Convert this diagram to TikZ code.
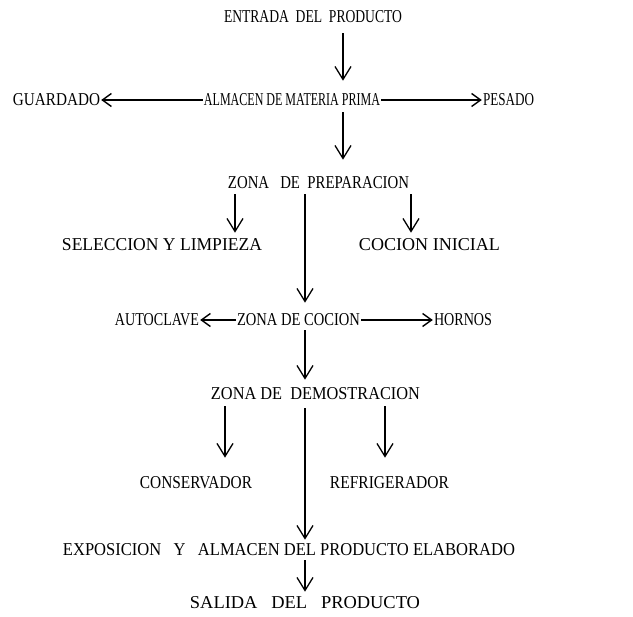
\documentclass[tikz,border=0pt]{standalone}
\usepackage{fontspec}
\setmainfont{Liberation Serif}
\usetikzlibrary{arrows.meta}
\newcommand{\fitlbl}[2]{\resizebox{#1pt}{12pt}{#2}}
\begin{document}
\begin{tikzpicture}[x=1pt,y=-1pt,
  lbl/.style={inner sep=0pt, font=\fontsize{15}{15}\selectfont},
  varr/.style={-{Straight Barb[length=13pt,width=16pt,line width=1.3pt]}, line width=1.2pt},
  harr/.style={-{Straight Barb[length=9pt,width=13pt,line width=1.4pt]}, line width=1.1pt, shorten <=1pt, shorten >=1pt}]
\useasboundingbox (0,0) rectangle (633,617);
% nodes
\node[lbl] (entrada) at (313,17) {\fitlbl{178}{ENTRADA\ \ DEL\ \ PRODUCTO}};
\node[lbl] (guardado) at (56.5,100) {\fitlbl{87}{GUARDADO}};
\node[lbl] (almacen) at (292,100) {\fitlbl{176}{ALMACEN\ DE\ MATERIA PRIMA}};
\node[lbl] (pesado) at (508.5,100) {\fitlbl{51}{PESADO}};
\node[lbl] (prep) at (318.5,183) {\fitlbl{181}{ZONA\ \ \ DE\ \ PREPARACION}};
\node[lbl] (selec) at (162,245) {\fitlbl{200}{SELECCION Y LIMPIEZA}};
\node[lbl] (cocini) at (429.5,245) {\fitlbl{141}{COCION INICIAL}};
\node[lbl] (autoclave) at (157,320) {\fitlbl{84}{AUTOCLAVE}};
\node[lbl] (coccion) at (298.5,320) {\fitlbl{123}{ZONA DE COCION}};
\node[lbl] (hornos) at (463,320) {\fitlbl{58}{HORNOS}};
\node[lbl] (demo) at (315.5,394) {\fitlbl{209}{ZONA DE\ \ DEMOSTRACION}};
\node[lbl] (conserv) at (196,483) {\fitlbl{112}{CONSERVADOR}};
\node[lbl] (refrig) at (389.5,483) {\fitlbl{119}{REFRIGERADOR}};
\node[lbl] (expo) at (289,550) {\fitlbl{452}{EXPOSICION\ \ \ Y\ \ \ ALMACEN DEL PRODUCTO ELABORADO}};
\node[lbl] (salida) at (305,603) {\fitlbl{230}{SALIDA\ \ \ DEL\ \ \ PRODUCTO}};
% columns
\coordinate (cA) at (343,0);
\coordinate (cL) at (235,0);
\coordinate (cM) at (305,0);
\coordinate (cR) at (411,0);
\coordinate (dL) at (225,0);
\coordinate (dR) at (385,0);
% connectors
\draw[varr, shorten <=10pt, shorten >=13pt] (entrada.south -| cA) -- (almacen.north -| cA);
\draw[harr] (almacen.west) -- (guardado.east);
\draw[harr] (almacen.east) -- (pesado.west);
\draw[varr, shorten <=6pt, shorten >=17pt] (almacen.south -| cA) -- (prep.north -| cA);
\draw[varr, shorten <=5pt, shorten >=6pt] (prep.south -| cL) -- (selec.north -| cL);
\draw[varr, shorten <=5pt, shorten >=6pt] (prep.south -| cR) -- (cocini.north -| cR);
\draw[varr, shorten <=5pt, shorten >=11pt] (prep.south -| cM) -- (coccion.north -| cM);
\draw[harr] (coccion.west) -- (autoclave.east);
\draw[harr] (coccion.east) -- (hornos.west);
\draw[varr, shorten <=4pt, shorten >=8pt] (coccion.south -| cM) -- (demo.north -| cM);
\draw[varr, shorten <=6pt, shorten >=19pt] (demo.south -| dL) -- (conserv.north -| dL);
\draw[varr, shorten <=6pt, shorten >=19pt] (demo.south -| dR) -- (refrig.north -| dR);
\draw[varr, shorten <=8pt, shorten >=4pt] (demo.south -| cM) -- (expo.north -| cM);
\draw[varr, shorten <=4pt, shorten >=5pt] (expo.south -| cM) -- (salida.north -| cM);
\end{tikzpicture}
\end{document}
